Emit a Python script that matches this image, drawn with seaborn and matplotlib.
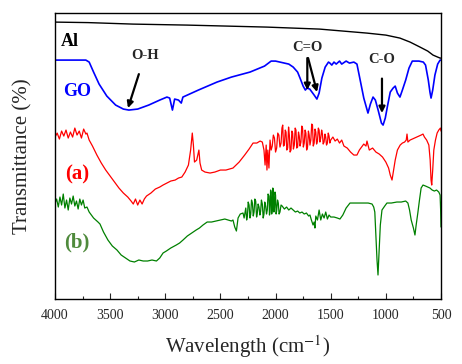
import matplotlib
matplotlib.use("Agg")
import matplotlib.pyplot as plt
import seaborn as sns
from matplotlib.ticker import MultipleLocator

# Spectra (y = offset transmittance, arbitrary units)
al_wn = [4000, 3700, 3293, 2800, 2078, 1600, 1171, 1000, 872, 780, 690, 620, 572, 530, 508, 500]
al_t = [277, 276.5, 275, 274, 272, 270, 266, 264, 261, 257, 252, 248, 244, 242, 241, 241]

go_wn = [4000, 3720, 3690, 3650, 3600, 3530, 3450, 3380, 3330, 3250, 3150, 3050, 2985, 2960,
         2935, 2915, 2880, 2855, 2840, 2700, 2531, 2400, 2232, 2100, 2040, 2000, 1960, 1880,
         1840, 1800, 1778, 1750, 1730, 1715, 1690, 1670, 1650, 1625, 1605, 1580, 1550, 1520,
         1507, 1490, 1470, 1450, 1420, 1400, 1360, 1330, 1290, 1262, 1240, 1200, 1162, 1140,
         1116, 1095, 1070, 1040, 1025, 1005, 985, 960, 934, 915, 895, 872, 850, 820, 790, 760,
         700, 660, 640, 615, 600, 590, 575, 555, 530, 508, 500]
go_py = [60, 60, 62, 72, 84, 96, 105, 109, 110, 109, 105, 100, 97, 98,
         110, 99, 100, 103, 97, 90, 82, 77, 72, 66, 61, 61, 62, 64,
         67, 72, 78, 86, 90, 88, 89, 92, 95, 99, 93, 78, 67, 62,
         63, 65, 62, 64, 61, 64, 61, 63, 62, 64, 76, 98, 113, 104,
         97, 100, 110, 123, 125, 118, 106, 92, 88, 86, 93, 97, 90, 80, 68, 61,
         61, 62, 65, 80, 92, 98, 90, 75, 64, 60, 60]

a_wn = [4000, 3980, 3960, 3940, 3920, 3900, 3880, 3860, 3840, 3820, 3800, 3780, 3760, 3740,
        3720, 3710, 3690, 3660, 3620, 3580, 3540, 3500, 3460, 3420, 3380, 3340, 3310, 3290,
        3270, 3250, 3230, 3210, 3190, 3170, 3130, 3090, 3050, 3020, 2985, 2950, 2910, 2880,
        2850, 2820, 2790, 2770, 2755, 2745, 2735, 2715, 2695, 2685, 2670, 2640, 2594, 2550,
        2500, 2450, 2386, 2330, 2280, 2240, 2204, 2170, 2140, 2120, 2105, 2095, 2085, 2078,
        2070, 2060,
        2050, 2040, 2030, 2020, 2010, 2000, 1990, 1980, 1970, 1960, 1950, 1942, 1935, 1928,
        1920, 1912, 1905, 1898, 1890, 1882, 1875, 1868, 1860, 1852, 1845, 1838, 1830, 1822,
        1815, 1808, 1800, 1792, 1785, 1778, 1770, 1762, 1755, 1748, 1740, 1732, 1725, 1718,
        1710, 1702, 1695, 1688, 1680, 1672, 1665, 1658, 1650, 1642, 1635, 1628, 1620, 1612,
        1605, 1598, 1590, 1582, 1575, 1568, 1560, 1552, 1545, 1538, 1530, 1522, 1515, 1508,
        1500,
        1480, 1460, 1440, 1420,
        1400, 1380, 1350, 1320, 1290, 1262, 1240, 1220, 1200, 1180, 1171, 1150, 1120, 1090,
        1060, 1030, 1000, 975, 960, 944, 930, 915, 895, 870, 850, 830, 815, 808, 800, 780,
        760, 740, 720, 700, 680, 663, 650, 630, 610, 598, 590, 584, 575, 565, 550, 535, 520,
        505, 500]
a_py = [137, 133, 139, 131, 136, 130, 138, 132, 137, 128, 135, 131, 138, 129,
        134, 133, 140, 146, 155, 163, 170, 176, 182, 188, 193, 197, 201, 204,
        199, 205, 200, 204, 199, 196, 193, 189, 187, 185, 183, 181, 180, 178,
        177, 172, 165, 150, 133, 145, 162, 160, 150, 163, 170, 172, 173, 172,
        170, 170, 168, 162, 155, 149, 143, 143, 141, 142, 150, 165, 145, 170,
        150, 168,
        140, 150, 146, 135, 138, 152, 148, 133, 135, 147, 143, 128, 125, 146,
        145, 130, 132, 150, 148, 127, 135, 152, 150, 131, 133, 149, 145, 128,
        130, 148, 147, 132, 136, 146, 142, 126, 128, 147, 143, 130, 133, 150,
        147, 131, 135, 145, 140, 124, 125, 146, 143, 129, 132, 144, 141, 128,
        130, 142, 138, 130, 134, 144, 142, 134, 137, 145, 143, 133, 136, 143,
        140,
        137, 141, 139, 143,
        140, 146, 148, 152, 155, 155, 150, 147, 144, 146, 141, 150, 148, 152,
        154, 157, 162, 168, 175, 180, 170, 160, 150, 145, 143, 142, 140, 134, 142, 140,
        139, 138, 137, 136, 135, 134, 137, 140, 145, 160, 180, 185, 170, 150, 140, 133, 130,
        128, 131]

b_wn = [4000, 3985, 3970, 3955, 3940, 3925, 3910, 3895, 3880, 3865, 3850, 3835, 3820, 3805,
        3790, 3775, 3760, 3745, 3730, 3710, 3690, 3650, 3610, 3592, 3560, 3520, 3480, 3438,
        3400, 3360, 3320, 3280, 3240, 3200, 3160, 3120, 3080, 3050, 3020, 2990, 2950, 2900,
        2870, 2839, 2800, 2760, 2720, 2690, 2658, 2620, 2580, 2540, 2500, 2460, 2430, 2400,
        2386, 2370, 2355, 2340, 2320,
        2295, 2285, 2270, 2262, 2255, 2248, 2240, 2232, 2225, 2218, 2210, 2202, 2195, 2188,
        2180, 2172, 2165, 2158, 2150, 2142, 2135, 2128, 2120, 2112, 2105, 2098, 2090, 2082,
        2075, 2068, 2060, 2055, 2050, 2045, 2040, 2035, 2030, 2025, 2020, 2015, 2010, 2005,
        2000, 1995, 1990, 1982, 1975, 1968, 1960, 1950,
        1940, 1920, 1900, 1880, 1860, 1840, 1820, 1800, 1780, 1760, 1740, 1720,
        1700, 1688, 1675, 1660, 1650, 1643, 1635, 1620, 1605, 1590, 1575, 1560, 1545, 1530,
        1515, 1500, 1470, 1440, 1416, 1390, 1360, 1325, 1280, 1240, 1200, 1160, 1125, 1110,
        1100, 1090, 1080, 1071, 1062, 1050, 1035, 1010, 990, 950, 900, 860, 820, 800, 785,
        770, 750, 736, 725, 710, 695, 680, 663, 640, 620, 600, 580, 560, 540, 520, 508, 503,
        500]
b_py = [203, 199, 207, 197, 205, 194, 208, 200, 210, 198, 204, 196, 206, 201,
        209, 199, 205, 200, 208, 207, 212, 218, 222, 224, 232, 240, 246, 250,
        255, 258, 261, 262, 260, 261, 261, 260, 261, 258, 253, 251, 248, 245,
        243, 240, 236, 233, 230, 228, 225, 222, 222, 221, 220, 219, 220, 221,
        220, 227, 231, 218, 214,
        213, 218, 208, 220, 216, 202, 205, 218, 214, 200, 203, 216, 212, 199,
        201, 217, 213, 204, 207, 215, 211, 200, 204, 218, 214, 202, 206, 214,
        210, 194, 196, 215, 212, 190, 192, 214, 210, 188, 190, 212, 208, 192,
        195, 214, 211, 200, 203, 214, 212, 205,
        206, 209, 207, 210, 208, 210, 212, 211, 213, 212, 214, 213,
        216, 215, 220, 225, 222, 228, 216, 220, 210, 220, 214, 218, 212, 219,
        215, 217, 217, 218, 219, 215, 208, 203, 203, 203, 203, 203, 204, 207,
        212, 235, 260, 275, 255, 225, 210, 206, 203, 203, 202, 202, 201, 203, 210,
        220, 228, 235, 225, 213, 200, 188, 185, 186, 187, 188, 190, 191, 190, 192, 195, 210,
        227]

go_t = [299 - v for v in go_py]
a_t = [299 - v for v in a_py]
b_t = [299 - v for v in b_py]

sns.set_style("ticks")
plt.rcParams['font.family'] = ['Liberation Serif', 'DejaVu Serif']
plt.rcParams['mathtext.fontset'] = 'stix'

fig = plt.figure(figsize=(4.62, 3.64), dpi=100)
ax = fig.add_axes([0.119, 0.1786, 0.8355, 0.7854])

sns.lineplot(x=al_wn, y=al_t, ax=ax, color='black', lw=1.0, estimator=None)
sns.lineplot(x=go_wn, y=go_t, ax=ax, color='#0000ff', lw=1.2, estimator=None)
sns.lineplot(x=a_wn, y=a_t, ax=ax, color='#ff0000', lw=0.9, estimator=None)
sns.lineplot(x=b_wn, y=b_t, ax=ax, color='#008000', lw=0.9, estimator=None)

ax.set_xlim(4000, 500)
ax.set_ylim(0, 286)
ax.xaxis.set_major_locator(MultipleLocator(500))
ax.xaxis.set_minor_locator(MultipleLocator(250))
ax.tick_params(axis='x', which='major', direction='in', length=4, width=0.8,
               labelsize=10, pad=7, top=False)
ax.tick_params(axis='x', which='minor', direction='in', length=2.5, width=0.8, top=False)
ax.set_yticks([])
for s in ax.spines.values():
    s.set_visible(True)
    s.set_color('black')
    s.set_linewidth(1.0)

ax.set_xlabel('Wavelength (cm$^{-1}$)', fontsize=15, labelpad=8)
ax.set_ylabel('Transmittance (%)', fontsize=15, labelpad=16)

ax.text(3864, 258, 'Al', fontsize=13, fontweight='bold', color='black', ha='center', va='center')
ax.text(3800, 208, 'GO', fontsize=13, fontweight='bold', color='#0000ff', ha='center', va='center')
ax.text(3800, 125, '(a)', fontsize=15, fontweight='bold', color='#ff0000', ha='center', va='center')
ax.text(3800, 57, '(b)', fontsize=15, fontweight='bold', color='#4f8a3c', ha='center', va='center')

arrow = dict(arrowstyle='-|>', color='black', lw=1.6, mutation_scale=9, shrinkA=0, shrinkB=0)
ax.annotate('O-H', xy=(3338, 191), xytext=(3184, 244), fontsize=10.5, fontweight='bold',
            ha='center', va='center', arrowprops=dict(arrow, shrinkA=7))
ax.text(1715, 252, 'C=O', fontsize=10.5, fontweight='bold', ha='center', va='center')
ax.annotate('', xy=(1712, 209), xytext=(1712, 241), arrowprops=arrow)
ax.annotate('', xy=(1624, 207), xytext=(1705, 241), arrowprops=arrow)
ax.annotate('C-O', xy=(1035, 186), xytext=(1035, 240), fontsize=10.5, fontweight='bold',
            ha='center', va='center', arrowprops=dict(arrow, shrinkA=7))

fig.savefig('out.png', dpi=100)
